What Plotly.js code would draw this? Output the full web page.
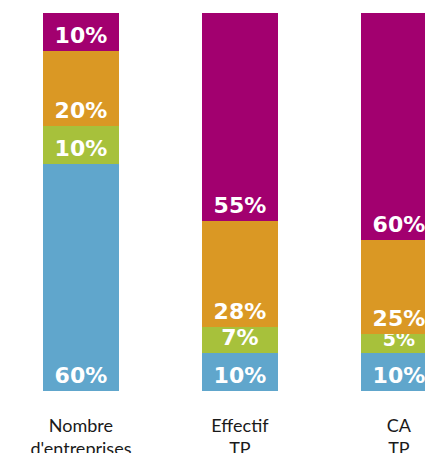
<!DOCTYPE html>
<html>
<head>
<meta charset="utf-8">
<script src="https://cdn.plot.ly/plotly-3.0.1.min.js"></script>
<style>html,body{margin:0;padding:0;background:#fff;}#chart{width:425px;height:453px;}</style>
</head>
<body>
<div id="chart"></div>
<script>
const categories = ["Nombre<br>d'entreprises", "Effectif<br>TP", "CA<br>TP"];
const seriesNames = ["S1", "S2", "S3", "S4"];
const blueValues = [60, 10, 10];
const greenValues = [10, 7, 5];
const orangeValues = [20, 28, 25];
const purpleValues = [10, 55, 60];
const colors = ["#60A6CC", "#A7C13B", "#DA9824", "#A2006F"];

const seriesValues = [blueValues, greenValues, orangeValues, purpleValues];
const traces = seriesValues.map((vals, i) => ({
  type: 'bar',
  name: seriesNames[i],
  x: categories,
  y: vals,
  marker: {color: colors[i], line: {width: 0}},
  text: vals.map(v => v + '%'),
  textposition: 'inside',
  insidetextanchor: 'start',
  constraintext: 'none',
  textangle: 0,
  insidetextfont: {family: 'DejaVu Sans, sans-serif', size: vals.map(v => v < 6 ? 19 : 22), color: '#ffffff', weight: 'bold'},
  hoverinfo: 'none'
}));

const layout = {
  width: 425, height: 453,
  margin: {l: 0, r: 0, t: 13, b: 62, pad: 0},
  barmode: 'stack',
  bargap: 0.522,
  showlegend: false,
  paper_bgcolor: '#ffffff',
  plot_bgcolor: '#ffffff',
  xaxis: {
    type: 'category',
    range: [-0.509, 2.164],
    showgrid: false, zeroline: false, showline: false,
    ticks: '', ticklabelstandoff: 22,
    tickfont: {family: 'Lato, sans-serif', size: 18, color: '#1a1a1a'}
  },
  yaxis: {
    range: [0, 100], visible: false, showgrid: false, zeroline: false
  }
};
Plotly.newPlot('chart', traces, layout, {staticPlot: true, displayModeBar: false});
</script>
</body>
</html>
